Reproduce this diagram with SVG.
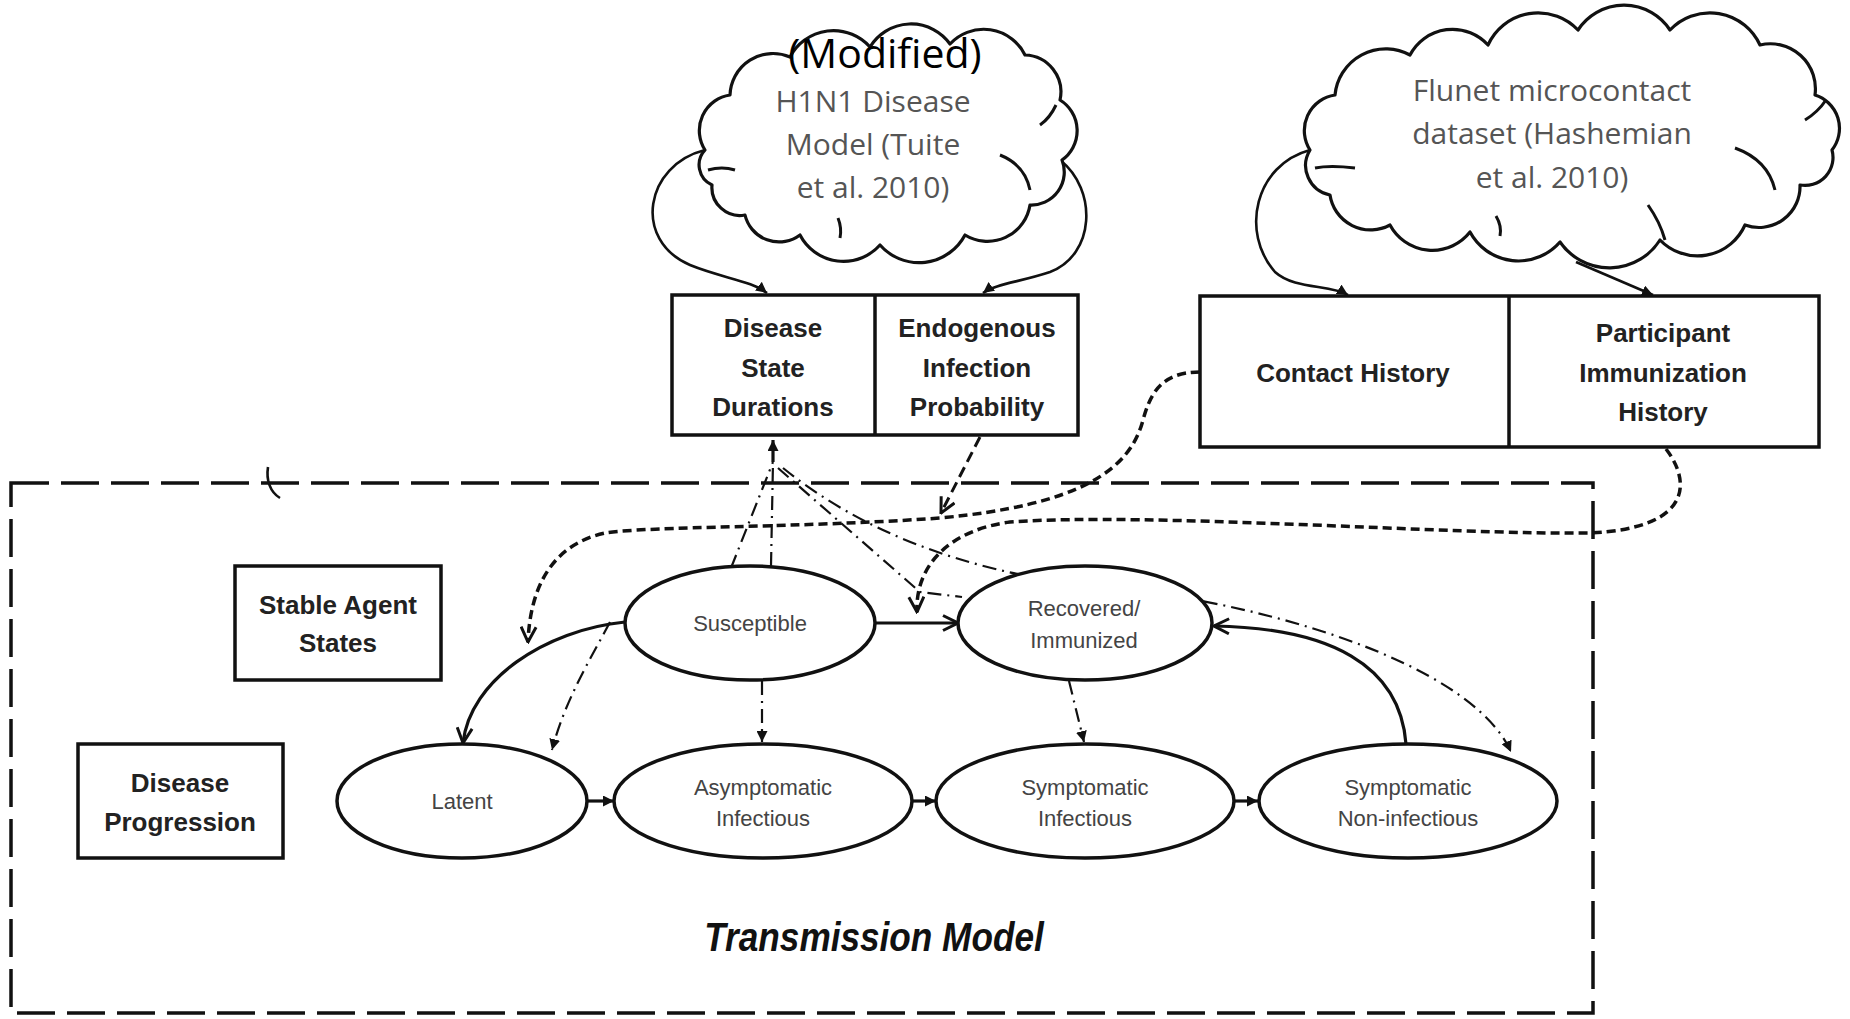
<svg xmlns="http://www.w3.org/2000/svg" width="1850" height="1019" viewBox="0 0 1850 1019">
<style>
.frame{fill:none;stroke:#111;stroke-width:3.5;stroke-dasharray:38 12}
.box{fill:#fff;stroke:#111;stroke-width:3.5}
.ell{fill:#fff;stroke:#111;stroke-width:3.5}
.cloud{fill:#fff;stroke:#111;stroke-width:3.2;stroke-linejoin:round}
.inner{fill:none;stroke:#111;stroke-width:3}
.solid{fill:none;stroke:#111;stroke-width:3.2}
.thin{fill:none;stroke:#111;stroke-width:2.6}
.dash{fill:none;stroke:#111;stroke-width:3.5;stroke-dasharray:9 5}
.dash2{fill:none;stroke:#111;stroke-width:3;stroke-dasharray:11 6}
.dd{fill:none;stroke:#111;stroke-width:2.2;stroke-dasharray:14 6 2 6}
.ctext{font-family:"Open Sans","Liberation Sans",sans-serif;font-size:30px;fill:#555;text-anchor:middle}
.btext{font-family:"Liberation Sans",Arial,sans-serif;font-weight:bold;font-size:26px;fill:#222;text-anchor:middle}
.etext{font-family:"Liberation Sans",Arial,sans-serif;font-size:22px;fill:#444;text-anchor:middle}
</style>
<defs>
<marker id="open" viewBox="0 0 12 12" refX="11" refY="6" markerWidth="18" markerHeight="18" markerUnits="userSpaceOnUse" orient="auto"><path d="M1,1 L11,6 L1,11" fill="none" stroke="#111" stroke-width="2"/></marker>
<marker id="tri" viewBox="0 0 10 10" refX="10" refY="5" markerWidth="11" markerHeight="11" markerUnits="userSpaceOnUse" orient="auto"><path d="M0,0 L10,5 L0,10 z" fill="#111"/></marker>
</defs>
<rect width="1850" height="1019" fill="#fff"/>

<g id="transmission-model">
<rect class="frame" x="11" y="483" width="1582" height="530"/>
<text transform="translate(874,951) scale(0.88,1)" x="0" y="0" font-family="Liberation Sans,Arial,sans-serif" font-size="40" font-weight="bold" font-style="italic" fill="#111" text-anchor="middle">Transmission Model</text>
<path class="thin" d="M268 467 C266 480 270 492 280 498"/>
</g>

<g id="connectors">
<path class="thin" d="M705 150 C645 165 632 240 690 265 C722 278 752 281 767 293" marker-end="url(#tri)"/>
<path class="thin" d="M1060 160 C1098 190 1095 255 1050 272 C1020 282 995 284 983 293" marker-end="url(#tri)"/>
<path class="thin" d="M1310 150 C1255 165 1240 232 1275 272 C1295 290 1330 284 1348 295" marker-end="url(#tri)"/>
<path class="thin" d="M1576 262 L1653 295" marker-end="url(#tri)"/>
<path class="dash" d="M1200 372 C1160 372 1150 395 1143 420 C1130 470 1080 505 940 518 C800 528 650 526 605 533 C550 545 530 590 528 642" marker-end="url(#open)"/>
<path class="dash2" d="M980 437 L941 513" marker-end="url(#open)"/>
<path class="dash" d="M1666 449 C1690 480 1695 528 1590 533 C1450 535 1150 512 1010 522 C950 530 915 565 917 612" marker-end="url(#open)"/>
<path class="dd" d="M731 568 L773 462"/>
<path class="dd" d="M771 566 L773 462"/>
<path class="dd" d="M778 468 L920 592 L962 597"/>
<path class="dd" d="M783 468 C860 530 960 570 1085 585 C1250 598 1470 660 1511 752" marker-end="url(#tri)"/>
<path class="solid" d="M773 462 L773 440" marker-end="url(#tri)"/>
<path class="dd" d="M610 622 C590 660 565 700 552 750" marker-end="url(#tri)"/>
<path class="dd" d="M762 681 L762 742" marker-end="url(#tri)"/>
<path class="dd" d="M1069 681 L1084 742" marker-end="url(#tri)"/>
<path class="solid" d="M876 623 L958 623" marker-end="url(#open)"/>
<path class="solid" d="M625 622 C545 630 470 680 463 743" marker-end="url(#open)"/>
<path class="solid" d="M1406 744 C1400 665 1330 628 1214 626" marker-end="url(#open)"/>
<path class="solid" d="M588 801 L614 801" marker-end="url(#tri)"/>
<path class="solid" d="M912 801 L936 801" marker-end="url(#tri)"/>
<path class="solid" d="M1234 801 L1258 801" marker-end="url(#tri)"/>
</g>

<g id="cloud-h1n1">
<path class="cloud" d="M705 150 A36 36 0 0 1 730 95 A43 43 0 0 1 790 57 A49 49 0 0 1 870 47 A48 48 0 0 1 950 44 A46 46 0 0 1 1025 55 A37 37 0 0 1 1060 100 A36 36 0 0 1 1062 160 A33 33 0 0 1 1030 205 A43 43 0 0 1 965 235 A52 52 0 0 1 880 245 A49 49 0 0 1 800 235 A35 35 0 0 1 745 215 A28 28 0 0 1 712 185 A22 22 0 0 1 705 150 Z"/>
<path class="inner" d="M1000 155 Q1025 165 1030 190"/>
<path class="inner" d="M1040 125 Q1050 118 1056 105"/>
<path class="inner" d="M708 170 Q722 166 735 170"/>
<path class="inner" d="M840 238 Q842 228 838 218"/>
<text class="ctext" x="873" y="112">H1N1 Disease</text>
<text class="ctext" x="873" y="155">Model (Tuite</text>
<text class="ctext" x="873" y="198">et al. 2010)</text>
<text x="885" y="68" font-family="Open Sans,Liberation Sans,sans-serif" font-size="41" fill="#000" text-anchor="middle">(Modified)</text>
</g>

<g id="cloud-flunet">
<path class="cloud" d="M1310 150 A36 36 0 0 1 1335 95 A51 51 0 0 1 1410 55 A48 48 0 0 1 1488 45 A55 55 0 0 1 1578 30 A55 55 0 0 1 1670 30 A55 55 0 0 1 1760 45 A45 45 0 0 1 1815 95 A35 35 0 0 1 1832 150 A28 28 0 0 1 1800 185 A41 41 0 0 1 1745 225 A52 52 0 0 1 1660 240 A60 60 0 0 1 1560 242 A55 55 0 0 1 1470 232 A48 48 0 0 1 1390 225 A41 41 0 0 1 1330 195 A30 30 0 0 1 1310 150 Z"/>
<path class="inner" d="M1735 148 Q1768 160 1775 190"/>
<path class="inner" d="M1805 120 Q1818 112 1826 100"/>
<path class="inner" d="M1315 168 Q1330 165 1355 168"/>
<path class="inner" d="M1500 236 Q1502 226 1496 216"/>
<path class="inner" d="M1648 205 Q1660 222 1665 240"/>
<text class="ctext" x="1552" y="101">Flunet microcontact</text>
<text class="ctext" x="1552" y="144">dataset (Hashemian</text>
<text class="ctext" x="1552" y="188">et al. 2010)</text>
</g>

<g id="box-disease-parameters">
<rect class="box" x="672" y="295" width="406" height="140"/>
<line x1="875" y1="295" x2="875" y2="435" stroke="#111" stroke-width="3.5"/>
<text class="btext" x="773" y="337">Disease</text>
<text class="btext" x="773" y="377">State</text>
<text class="btext" x="773" y="416">Durations</text>
<text class="btext" x="977" y="337">Endogenous</text>
<text class="btext" x="977" y="377">Infection</text>
<text class="btext" x="977" y="416">Probability</text>
</g>

<g id="box-contact-data">
<rect class="box" x="1200" y="296" width="619" height="151"/>
<line x1="1509" y1="296" x2="1509" y2="447" stroke="#111" stroke-width="3.5"/>
<text class="btext" x="1353" y="382">Contact History</text>
<text class="btext" x="1663" y="342">Participant</text>
<text class="btext" x="1663" y="382">Immunization</text>
<text class="btext" x="1663" y="421">History</text>
</g>

<g id="box-stable-agent-states">
<rect class="box" x="235" y="566" width="206" height="114"/>
<text class="btext" x="338" y="614">Stable Agent</text>
<text class="btext" x="338" y="652">States</text>
</g>

<g id="box-disease-progression">
<rect class="box" x="78" y="744" width="205" height="114"/>
<text class="btext" x="180" y="792">Disease</text>
<text class="btext" x="180" y="831">Progression</text>
</g>

<g id="state-susceptible">
<ellipse class="ell" cx="750" cy="623" rx="125" ry="57"/>
<text class="etext" x="750" y="631">Susceptible</text>
</g>
<g id="state-recovered">
<ellipse class="ell" cx="1085" cy="623" rx="127" ry="57"/>
<text class="etext" x="1084" y="616">Recovered/</text>
<text class="etext" x="1084" y="648">Immunized</text>
</g>
<g id="state-latent">
<ellipse class="ell" cx="462" cy="801" rx="125" ry="57"/>
<text class="etext" x="462" y="809">Latent</text>
</g>
<g id="state-asymptomatic-infectious">
<ellipse class="ell" cx="763" cy="801" rx="149" ry="57"/>
<text class="etext" x="763" y="795">Asymptomatic</text>
<text class="etext" x="763" y="826">Infectious</text>
</g>
<g id="state-symptomatic-infectious">
<ellipse class="ell" cx="1085" cy="801" rx="149" ry="57"/>
<text class="etext" x="1085" y="795">Symptomatic</text>
<text class="etext" x="1085" y="826">Infectious</text>
</g>
<g id="state-symptomatic-noninfectious">
<ellipse class="ell" cx="1408" cy="801" rx="149" ry="57"/>
<text class="etext" x="1408" y="795">Symptomatic</text>
<text class="etext" x="1408" y="826">Non-infectious</text>
</g>
</svg>
